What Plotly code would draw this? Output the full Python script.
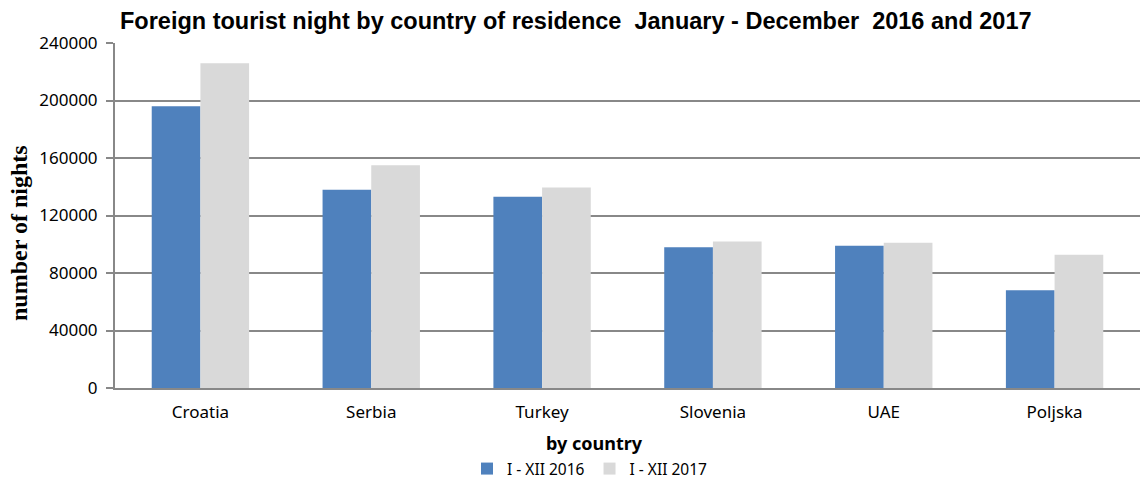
import plotly.graph_objects as go

countries = ["Croatia", "Serbia", "Turkey", "Slovenia", "UAE", "Poljska"]
nights_2016 = [196000, 138000, 133000, 98000, 99000, 68000]
nights_2017 = [226000, 155000, 139500, 102000, 101000, 92700]
series_names = ["I - XII 2016", "I - XII 2017"]
tick_vals = [0, 40000, 80000, 120000, 160000, 200000, 240000]

W, H = 1142, 481
L, R, T, B = 115, 2, 43, 93
pw, ph = W - L - R, H - T - B

def px_x(x):
    return (x - L) / pw

def px_y(y):
    return (H - B - y) / ph

fig = go.Figure()
fig.add_trace(go.Bar(x=countries, y=nights_2016, name=series_names[0],
                     marker=dict(color="#4F81BD", line=dict(width=0))))
fig.add_trace(go.Bar(x=countries, y=nights_2017, name=series_names[1],
                     marker=dict(color="#D9D9D9", line=dict(width=0))))

tick_font = dict(family="Noto Sans, Open Sans, sans-serif", size=17, color="#000")

fig.update_layout(
    width=W, height=H,
    margin=dict(l=L, r=R, t=T, b=B, autoexpand=False),
    paper_bgcolor="white", plot_bgcolor="white",
    barmode="group", bargap=0.43, bargroupgap=0,
    title=dict(text="<b>Foreign tourist night by country of residence  January - December  2016 and 2017</b>",
               x=120 / W, xanchor="left", y=1 - 21 / H, yanchor="middle",
               font=dict(family="Liberation Sans, Arial, sans-serif", size=23.5, color="#000")),
    xaxis=dict(showline=True, linecolor="#888", linewidth=2, ticks="",
               tickfont=dict(family="Noto Sans, Open Sans, sans-serif", size=17, color="#000"),
               showgrid=False, automargin=False, ticklabelstandoff=8),
    yaxis=dict(range=[0, 240000], tickvals=tick_vals, ticktext=[str(v) for v in tick_vals],
               showline=True, linecolor="#888", linewidth=2,
               ticks="outside", ticklen=7, tickcolor="#888", tickwidth=2,
               showgrid=True, gridcolor="#888", gridwidth=2,
               tickfont=tick_font, zeroline=False, automargin=False,
               ticklabelstandoff=5),
    legend=dict(orientation="h", x=px_x(590), xanchor="center", y=px_y(486), yanchor="bottom",
                font=dict(family="Noto Sans, Open Sans, sans-serif", size=15.5, color="#000"),
                itemwidth=30, traceorder="normal", borderwidth=0),
    showlegend=True,
)

fig.add_annotation(text="<b>by country</b>", xref="paper", yref="paper",
                   x=px_x(594), y=px_y(443), xanchor="center", yanchor="middle",
                   showarrow=False,
                   font=dict(family="Noto Sans, Open Sans, sans-serif", size=18, color="#000"))
fig.add_annotation(text="<b>number of nights</b>", xref="paper", yref="paper",
                   x=px_x(19), y=px_y(233), xanchor="center", yanchor="middle",
                   textangle=-90, showarrow=False,
                   font=dict(family="Liberation Serif, Times New Roman, serif", size=24, color="#000"))

fig.write_html("out.html", config={"displayModeBar": False},
               post_script="document.body.style.margin='0';document.body.style.overflow='hidden';")
